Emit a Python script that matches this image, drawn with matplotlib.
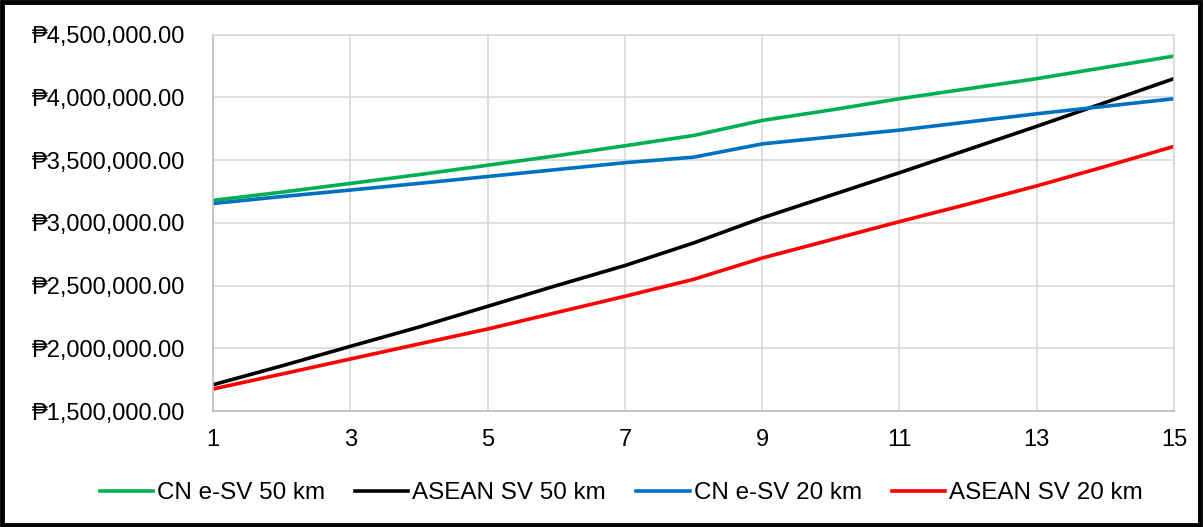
import matplotlib.pyplot as plt
from matplotlib.patches import Rectangle
from matplotlib.ticker import FuncFormatter

plt.rcParams['font.family'] = ['Liberation Sans', 'DejaVu Sans']

# Years of operation
years = list(range(1, 16))

# Cumulative cost (PHP)
cn_esv_50 = [3180000, 3245000, 3315000, 3385000, 3460000, 3535000, 3615000, 3697000,
             3817000, 3900000, 3990000, 4070000, 4150000, 4240000, 4330000]
asean_sv_50 = [1710000, 1860000, 2016000, 2170000, 2335000, 2500000, 2660000, 2840000,
               3040000, 3220000, 3400000, 3585000, 3770000, 3960000, 4150000]
cn_esv_20 = [3155000, 3210000, 3262000, 3315000, 3370000, 3425000, 3480000, 3524000,
             3630000, 3685000, 3740000, 3805000, 3870000, 3930000, 3990000]
asean_sv_20 = [1676000, 1795000, 1915000, 2035000, 2154000, 2285000, 2415000, 2550000,
               2720000, 2865000, 3010000, 3150000, 3295000, 3450000, 3610000]

fig = plt.figure(figsize=(12.04, 5.27), dpi=100)
ax = fig.add_axes([0.177, 0.220, 0.798, 0.714])

ax.plot(years, cn_esv_50, color="#00B050", lw=2.6, label="CN e-SV 50 km")
ax.plot(years, asean_sv_50, color="#000000", lw=2.6, label="ASEAN SV 50 km")
ax.plot(years, cn_esv_20, color="#0070C0", lw=2.6, label="CN e-SV 20 km")
ax.plot(years, asean_sv_20, color="#FF0000", lw=2.6, label="ASEAN SV 20 km")

ax.set_xlim(1, 15)
ax.set_ylim(1500000, 4500000)
ax.set_xticks(range(1, 16, 2))
ax.set_yticks(range(1500000, 4500001, 500000))
ax.yaxis.set_major_formatter(FuncFormatter(lambda v, p: "\u20b1{:,.2f}".format(v)))
ax.tick_params(axis="both", length=0, labelsize=17, colors="#000000")
ax.tick_params(axis="x", pad=13)
ax.tick_params(axis="y", pad=20)

ax.grid(True, color="#d9d9d9", lw=1.2)
ax.set_axisbelow(True)
for s in ax.spines.values():
    s.set_color("#d9d9d9")
    s.set_linewidth(1.2)
ax.spines["left"].set_color("#bfbfbf")
ax.spines["bottom"].set_color("#bfbfbf")

fig.legend(loc="center", bbox_to_anchor=(0.516, 0.064), ncol=4, frameon=False,
           fontsize=17.4, handlelength=2.2, handletextpad=0.17, columnspacing=1.25,
           borderpad=0, borderaxespad=0)

# outer frame
fig.patches.append(Rectangle((0.002, 0.003), 0.995, 0.994, transform=fig.transFigure,
                             fill=False, edgecolor="black", lw=3.5))

fig.savefig("out.png", dpi=100)
